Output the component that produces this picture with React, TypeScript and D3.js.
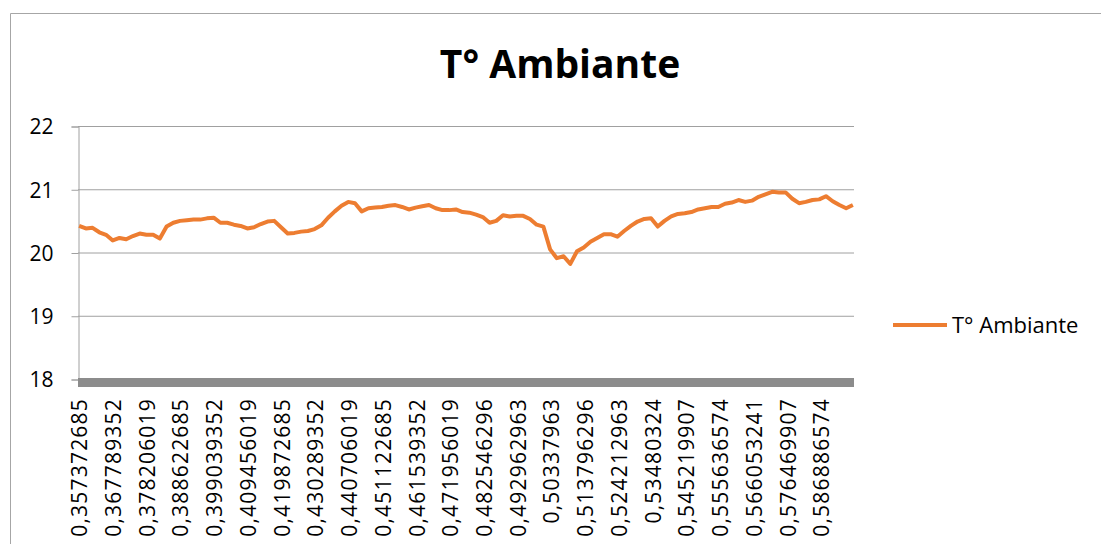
import React, { useRef, useEffect } from "react";
import * as d3 from "d3";

const title = "T° Ambiante";
const seriesName = "T° Ambiante";

// tick labels on the category axis (one every 15 samples)
const tickLabels = [
  "0,357372685", "0,367789352", "0,378206019", "0,388622685", "0,399039352",
  "0,409456019", "0,419872685", "0,430289352", "0,440706019", "0,451122685",
  "0,461539352", "0,471956019", "0,482546296", "0,492962963", "0,50337963",
  "0,513796296", "0,524212963", "0,53480324", "0,545219907", "0,555636574",
  "0,566053241", "0,576469907", "0,586886574",
];
const categoryCount = 345;
const tickEvery = 15;

const yTicks = [18, 19, 20, 21, 22];

// temperature at regular steps
const temps = [
  20.42, 20.38, 20.39, 20.32, 20.28, 20.19, 20.23, 20.21, 20.26, 20.30,
  20.28, 20.28, 20.22, 20.41, 20.47, 20.50, 20.51, 20.52, 20.52, 20.54,
  20.55, 20.47, 20.47, 20.44, 20.42, 20.38, 20.40, 20.45, 20.49, 20.50,
  20.40, 20.30, 20.31, 20.33, 20.34, 20.37, 20.43, 20.55, 20.65, 20.74,
  20.80, 20.78, 20.65, 20.70, 20.71, 20.72, 20.74, 20.75, 20.72, 20.68,
  20.71, 20.73, 20.75, 20.70, 20.67, 20.67, 20.68, 20.64, 20.63, 20.60,
  20.56, 20.47, 20.50, 20.59, 20.57, 20.58, 20.58, 20.53, 20.44, 20.41,
  20.05, 19.91, 19.94, 19.82, 20.02, 20.08, 20.17, 20.23, 20.29, 20.29,
  20.25, 20.34, 20.42, 20.49, 20.53, 20.54, 20.41, 20.50, 20.57, 20.61,
  20.62, 20.64, 20.68, 20.70, 20.72, 20.72, 20.77, 20.79, 20.83, 20.80,
  20.82, 20.88, 20.92, 20.96, 20.95, 20.95, 20.85, 20.78, 20.80, 20.83,
  20.84, 20.89, 20.81, 20.75, 20.70, 20.75,
];

const W = 1101;
const H = 547;

const Chart: React.FC = () => {
  const svgRef = useRef<SVGSVGElement | null>(null);

  useEffect(() => {
    if (!svgRef.current) return;
    const svg = d3.select(svgRef.current);
    svg.selectAll("*").remove();

    const left = 78;
    const right = 854;
    const top = 126;
    const bottom = 379;
    const font = "'Open Sans', sans-serif";

    // border of the chart frame
    svg.append("path")
      .attr("d", `M10.5,${H - 3} V13.5 H${W}`)
      .attr("fill", "none")
      .attr("stroke", "#a6a6a6")
      .attr("stroke-width", 1);

    const xCat = d3.scaleLinear().domain([-0.5, categoryCount - 0.5]).range([left, right]);
    const xLine = d3.scaleLinear()
      .domain([0, temps.length - 1])
      .range([xCat(0), xCat(categoryCount - 1)]);
    const y = d3.scaleLinear().domain([18, 22]).range([bottom, top]);

    // gridlines
    svg.append("g")
      .selectAll("line")
      .data(yTicks.filter((t) => t > 18))
      .join("line")
      .attr("x1", left)
      .attr("x2", right)
      .attr("y1", (d) => y(d) + 0.5)
      .attr("y2", (d) => y(d) + 0.5)
      .attr("stroke", "#a0a0a0")
      .attr("stroke-width", 1);

    // y axis
    const yAxis = svg.append("g")
      .attr("transform", `translate(${left + 0.5},0.5)`)
      .call(d3.axisLeft(y).tickValues(yTicks).tickSize(7).tickFormat((d) => String(d)));
    yAxis.select(".domain").attr("stroke", "#a0a0a0");
    yAxis.selectAll(".tick line").attr("stroke", "#a0a0a0");
    yAxis.selectAll(".tick text")
      .attr("x", -25)
      .attr("dy", "0.35em")
      .attr("font-family", font)
      .attr("font-size", 21)
      .attr("fill", "#000");

    // thick category axis
    svg.append("rect")
      .attr("x", left)
      .attr("y", y(18) - 1)
      .attr("width", right - left)
      .attr("height", 9)
      .attr("fill", "#8c8c8c");

    // category tick labels
    svg.append("g")
      .selectAll("text")
      .data(tickLabels)
      .join("text")
      .attr("transform", (_, i) => `translate(${xCat(i * tickEvery) + 8},398) rotate(-90)`)
      .attr("text-anchor", "end")
      .attr("font-family", font)
      .attr("font-size", 21)
      .attr("letter-spacing", 1.2)
      .attr("fill", "#000")
      .text((d) => d);

    // the series
    const line = d3.line<number>()
      .x((_, i) => xLine(i))
      .y((d) => y(d));
    svg.append("path")
      .datum(temps)
      .attr("d", line)
      .attr("fill", "none")
      .attr("stroke", "#ED7D31")
      .attr("stroke-width", 4)
      .attr("stroke-linejoin", "round");

    // title
    svg.append("text")
      .attr("x", 560)
      .attr("y", 78)
      .attr("text-anchor", "middle")
      .attr("font-family", font)
      .attr("font-weight", "bold")
      .attr("font-size", 39)
      .attr("fill", "#000")
      .text(title);

    // legend
    svg.append("line")
      .attr("x1", 893)
      .attr("x2", 947)
      .attr("y1", 325)
      .attr("y2", 325)
      .attr("stroke", "#ED7D31")
      .attr("stroke-width", 4);
    svg.append("text")
      .attr("x", 952)
      .attr("y", 333)
      .attr("font-family", font)
      .attr("font-size", 22)
      .attr("fill", "#000")
      .text(seriesName);
  }, []);

  return (
    <svg
      ref={svgRef}
      width={W}
      height={H}
      style={{ position: "absolute", left: 0, top: 0, background: "#fff" }}
    ></svg>
  );
};

export default function App() {
  return <Chart />;
}
